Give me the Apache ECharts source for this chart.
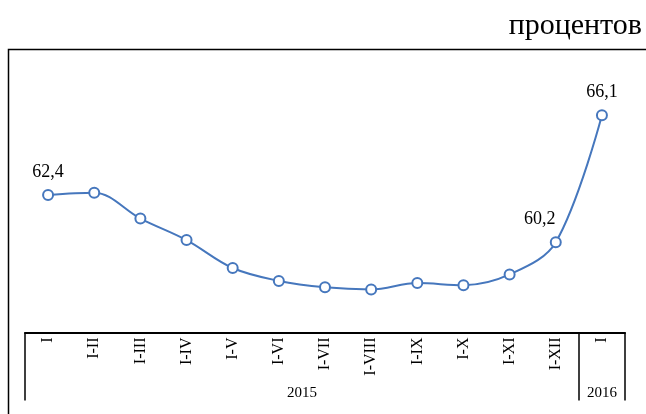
<!DOCTYPE html>
<html>
<head>
<meta charset="utf-8">
<script src="https://cdn.jsdelivr.net/npm/echarts@6/dist/echarts.min.js"></script>
<style>
  html, body { margin: 0; padding: 0; background: #fff; }
  #chart { width: 646px; height: 414px; }
</style>
</head>
<body>
<div id="chart"></div>
<script>
// ---- data ----
var months = ['I', 'I-II', 'I-III', 'I-IV', 'I-V', 'I-VI', 'I-VII', 'I-VIII', 'I-IX', 'I-X', 'I-XI', 'I-XII', 'I'];
var values = [62.4, 62.5, 61.3, 60.3, 59.0, 58.4, 58.1, 58.0, 58.3, 58.2, 58.7, 60.2, 66.1];
var years = ['2015', '2016'];
var yearSpans = [12, 1];
var labeledIdx = [0, 11, 12];
var unitText = 'процентов';

// ---- derived from data ----
var yearTicks = [0];
var yearCenters = [];
var acc = 0;
yearSpans.forEach(function (s) { yearCenters.push(acc + s / 2); acc += s; yearTicks.push(acc); });

var FONT = 'Liberation Serif, Times New Roman, serif';
var BLUE = '#4677bd';

function fmt(v) { return v.toFixed(1).replace('.', ','); }

var seriesData = values.map(function (v, i) {
  var item = { value: v };
  if (labeledIdx.indexOf(i) >= 0) {
    item.label = { show: true };
    if (i === 11) item.label.offset = [-16, 0];
  }
  return item;
});

var chart = echarts.init(document.getElementById('chart'), null, { renderer: 'canvas' });
chart.setOption({
  animation: false,
  backgroundColor: '#fff',
  title: {
    text: unitText,
    right: 4,
    top: 11,
    padding: 0,
    textStyle: { fontFamily: FONT, fontSize: 30, fontWeight: 'normal', color: '#000' }
  },
  graphic: [{
    type: 'polyline',
    silent: true,
    shape: { points: [[8.5, 430], [8.5, 49.5], [660, 49.5]] },
    style: { stroke: '#000', lineWidth: 1.5, fill: null }
  }],
  grid: { left: 25, right: 21, top: 96, bottom: 81.5 },
  xAxis: [{
    type: 'category',
    data: months,
    boundaryGap: true,
    axisLine: { show: true, lineStyle: { color: '#000', width: 2 } },
    axisTick: { show: false },
    axisLabel: {
      interval: 0, rotate: 90, margin: 5,
      fontFamily: FONT, fontSize: 16, color: '#000'
    },
    splitLine: { show: false }
  }, {
    type: 'value',
    position: 'bottom',
    min: 0,
    max: yearTicks[yearTicks.length - 1],
    axisLine: { show: false },
    splitLine: { show: false },
    axisTick: {
      show: true, inside: false, length: 68,
      customValues: yearTicks,
      lineStyle: { color: '#000', width: 1.5 }
    },
    axisLabel: {
      show: true, margin: 53,
      customValues: yearCenters,
      formatter: function (v) {
        var k = yearCenters.indexOf(v);
        return k >= 0 ? years[k] : '';
      },
      fontFamily: FONT, fontSize: 15, color: '#000'
    }
  }],
  yAxis: {
    type: 'value',
    min: 56,
    max: 67,
    show: false,
    splitLine: { show: false }
  },
  series: [{
    type: 'line',
    xAxisIndex: 0,
    data: seriesData,
    smooth: 0.35,
    symbol: 'circle',
    symbolSize: 10,
    showAllSymbol: true,
    lineStyle: { color: BLUE, width: 2 },
    itemStyle: { color: '#fff', borderColor: BLUE, borderWidth: 2 },
    label: {
      show: false,
      position: 'top',
      distance: 8,
      formatter: function (p) { return fmt(p.value); },
      fontFamily: FONT, fontSize: 18, color: '#000'
    }
  }]
});
</script>
</body>
</html>
